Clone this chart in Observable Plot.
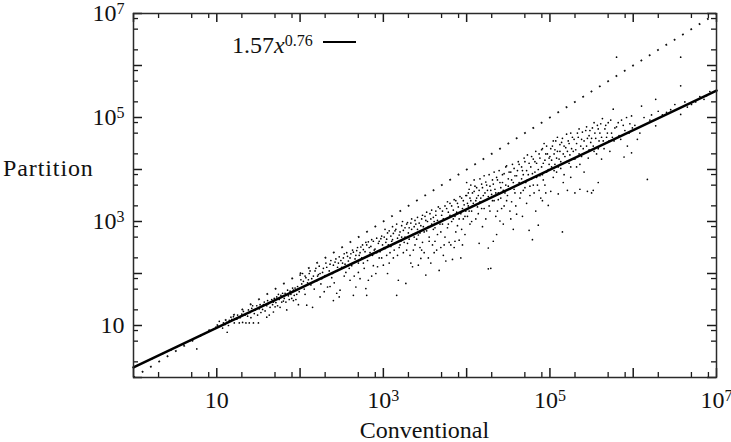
<!DOCTYPE html>
<html><head><meta charset="utf-8">
<script src="https://cdn.jsdelivr.net/npm/d3@7"></script>
<script src="https://cdn.jsdelivr.net/npm/@observablehq/plot@0.6"></script>
<style>
html,body{margin:0;padding:0;background:#fff;}
#chart svg{display:block;}
</style></head><body><div id="chart"></div>
<script>
// Scatter samples as [log10(Conventional), log10(Partition)], grouped by decade of Conventional
const decade0 = [[0.22,0.36],[0.35,0.46],[0.45,0.53],[0.52,0.59],[0.60,0.64],[0.68,0.71],[0.76,0.55],[0.80,0.80],[0.85,0.84],[0.92,0.90],[0.97,0.93],[0.99,0.97]];
const decade1 = [[1.02,0.98],[1.05,1.00],[1.08,1.05],[1.10,1.02],[1.125,0.87],[1.15,1.10],[1.18,1.12],[1.20,1.17],[1.22,1.13],[1.25,1.20],[1.27,1.05],[1.30,1.22],[1.32,1.27],[1.35,1.05],[1.38,1.30],[1.40,1.25],[1.42,1.33],[1.44,1.05],[1.45,1.23],[1.48,1.38],[1.50,1.05],[1.52,1.40],[1.55,1.31],[1.57,1.45],[1.60,1.16],[1.60,1.38],[1.62,1.42],[1.63,1.20],[1.66,1.50],[1.68,1.26],[1.68,1.45],[1.70,1.36],[1.72,1.55],[1.75,1.50],[1.76,1.35],[1.77,1.58],[1.80,1.47],[1.82,1.62],[1.84,1.30],[1.86,1.57],[1.88,1.66],[1.90,1.52],[1.92,1.48],[1.92,1.68],[1.94,1.72],[1.96,1.60],[1.98,1.40]];
const decade1b = [[1.03,1.08],[1.07,0.95],[1.12,1.06],[1.14,1.00],[1.17,1.16],[1.21,1.05],[1.24,1.12],[1.28,1.15],[1.31,1.06],[1.34,1.20],[1.37,1.18],[1.39,1.05],[1.41,1.15],[1.43,1.38],[1.46,1.30],[1.49,1.20],[1.51,1.32],[1.53,1.25],[1.56,1.40],[1.58,1.28],[1.61,1.48],[1.64,1.35],[1.67,1.40],[1.69,1.52],[1.71,1.44],[1.73,1.38],[1.74,1.60],[1.78,1.45],[1.79,1.62],[1.81,1.52],[1.83,1.45],[1.85,1.68],[1.87,1.50],[1.89,1.60],[1.91,1.72],[1.93,1.58],[1.95,1.50],[1.97,1.75],[1.99,1.65]];
const decade2 = [[2.00,1.97],[2.02,1.80],[2.04,1.85],[2.05,1.70],[2.07,1.92],[2.08,1.39],[2.10,1.88],[2.11,2.00],[2.13,1.78],[2.15,1.35],[2.16,1.95],[2.18,2.05],[2.20,1.86],[2.22,1.98],[2.24,1.55],[2.24,2.00],[2.26,1.90],[2.28,2.10],[2.30,1.96],[2.32,2.12],[2.33,1.74],[2.35,2.05],[2.36,2.18],[2.38,1.92],[2.40,1.48],[2.40,2.16],[2.42,2.22],[2.44,2.05],[2.46,2.20],[2.48,1.68],[2.49,2.25],[2.50,2.12],[2.52,2.30],[2.54,2.18],[2.55,2.02],[2.57,2.33],[2.58,2.24],[2.60,1.87],[2.61,2.38],[2.62,2.15],[2.64,1.58],[2.64,2.41],[2.66,2.28],[2.67,1.74],[2.68,2.44],[2.70,2.20],[2.71,2.35],[2.73,2.51],[2.74,2.30],[2.76,2.46],[2.77,2.10],[2.79,1.71],[2.80,1.58],[2.80,2.55],[2.82,1.87],[2.82,2.61],[2.84,2.40],[2.85,2.52],[2.87,2.35],[2.88,2.62],[2.90,2.47],[2.91,2.00],[2.93,2.13],[2.94,2.58],[2.96,2.42],[2.97,2.67],[2.98,2.30],[2.99,2.55]];
const decade2b = [[2.01,1.88],[2.03,2.00],[2.06,1.60],[2.06,1.95],[2.09,1.82],[2.12,2.05],[2.14,1.90],[2.17,1.70],[2.19,2.10],[2.21,1.95],[2.23,2.14],[2.25,1.80],[2.27,2.02],[2.29,1.65],[2.31,2.20],[2.34,1.98],[2.37,2.25],[2.39,2.00],[2.41,1.82],[2.43,2.28],[2.45,2.12],[2.47,1.55],[2.47,2.32],[2.51,2.20],[2.53,1.95],[2.56,2.40],[2.59,2.10],[2.60,2.30],[2.63,2.45],[2.65,1.95],[2.67,2.35],[2.69,2.50],[2.72,2.40],[2.72,1.90],[2.75,2.55],[2.78,2.42],[2.79,2.60],[2.81,2.25],[2.83,2.50],[2.86,2.65],[2.86,1.95],[2.89,2.45],[2.92,2.68],[2.92,2.40],[2.95,2.30],[2.95,2.62],[2.98,2.72],[2.53,2.38],[2.57,2.14],[2.36,1.75],[2.44,1.62],[2.70,2.02],[2.76,2.20],[2.88,2.15]];
const decade3 = [[3.00,2.16],[3.01,2.70],[3.02,2.48],[3.03,2.60],[3.05,2.00],[3.05,2.78],[3.06,2.55],[3.08,2.40],[3.09,2.72],[3.10,2.62],[3.12,2.77],[3.12,2.30],[3.14,2.58],[3.15,2.85],[3.16,1.58],[3.17,2.68],[3.18,1.87],[3.19,2.50],[3.20,2.80],[3.21,2.62],[3.22,2.92],[3.24,2.83],[3.24,2.40],[3.26,2.70],[3.27,1.81],[3.28,2.95],[3.29,2.58],[3.30,2.78],[3.31,2.88],[3.33,2.97],[3.33,2.20],[3.35,2.13],[3.35,2.75],[3.36,2.45],[3.37,2.90],[3.38,3.02],[3.40,2.66],[3.41,2.85],[3.42,2.16],[3.43,2.97],[3.44,2.78],[3.45,2.29],[3.46,3.05],[3.47,2.60],[3.48,2.90],[3.50,3.10],[3.51,1.97],[3.52,2.82],[3.53,3.00],[3.55,2.70],[3.56,3.15],[3.57,2.20],[3.58,2.95],[3.59,2.55],[3.60,3.08],[3.62,2.88],[3.63,3.20],[3.64,2.45],[3.65,3.02],[3.67,2.06],[3.68,3.25],[3.69,2.80],[3.70,3.12],[3.71,2.95],[3.72,2.35],[3.74,3.30],[3.75,2.24],[3.75,3.05],[3.77,2.88],[3.78,3.18],[3.79,2.60],[3.80,3.35],[3.82,3.00],[3.83,2.27],[3.84,3.22],[3.85,2.50],[3.86,3.10],[3.87,3.40],[3.89,2.92],[3.90,3.28],[3.91,2.64],[3.93,2.30],[3.93,3.15],[3.94,3.45],[3.96,3.05],[3.97,3.32],[3.98,2.75],[3.99,3.20]];
const decade3b = [[3.01,2.50],[3.02,2.85],[3.04,2.35],[3.04,2.66],[3.07,2.82],[3.07,2.20],[3.09,2.52],[3.11,2.90],[3.11,2.65],[3.13,2.45],[3.14,2.82],[3.16,2.95],[3.17,2.35],[3.19,2.74],[3.20,2.55],[3.22,2.70],[3.23,3.00],[3.25,2.60],[3.26,2.88],[3.28,2.45],[3.29,2.98],[3.31,2.66],[3.32,2.35],[3.34,2.85],[3.34,3.05],[3.37,2.70],[3.38,2.55],[3.39,2.95],[3.41,3.08],[3.42,2.74],[3.44,2.50],[3.45,2.92],[3.47,3.12],[3.49,2.80],[3.49,2.40],[3.51,3.02],[3.52,3.18],[3.54,2.90],[3.55,2.62],[3.57,3.05],[3.58,3.22],[3.60,2.85],[3.61,2.40],[3.61,3.00],[3.63,3.12],[3.65,2.75],[3.66,3.28],[3.68,2.95],[3.69,2.50],[3.71,3.20],[3.72,3.05],[3.74,2.70],[3.76,3.25],[3.77,3.38],[3.78,2.95],[3.80,3.12],[3.81,2.55],[3.82,3.30],[3.84,3.05],[3.85,3.42],[3.87,2.80],[3.88,3.18],[3.89,3.35],[3.91,3.05],[3.92,3.48],[3.94,2.85],[3.95,3.25],[3.96,3.40],[3.98,3.10],[3.99,3.50],[3.46,2.45],[3.54,2.30],[3.62,2.62],[3.73,2.55],[3.86,2.62],[3.95,2.55]];
const decade4 = [[4.00,3.50],[4.01,3.10],[4.02,3.30],[4.03,3.62],[4.04,2.95],[4.05,3.40],[4.06,3.20],[4.07,3.55],[4.08,3.35],[4.10,3.68],[4.11,3.05],[4.12,3.45],[4.13,3.28],[4.15,2.58],[4.15,3.60],[4.16,3.38],[4.18,3.72],[4.19,2.90],[4.20,3.50],[4.21,3.25],[4.23,3.76],[4.24,3.42],[4.25,3.60],[4.26,2.49],[4.26,2.09],[4.27,3.30],[4.28,3.68],[4.29,2.10],[4.30,3.52],[4.31,3.80],[4.32,2.62],[4.33,3.40],[4.34,3.62],[4.36,3.85],[4.37,3.20],[4.38,3.55],[4.40,3.01],[4.40,3.75],[4.41,3.45],[4.43,3.90],[4.44,3.60],[4.45,3.30],[4.47,3.70],[4.48,4.07],[4.49,3.50],[4.50,3.82],[4.52,3.62],[4.53,3.95],[4.54,3.38],[4.56,2.85],[4.56,3.75],[4.57,4.02],[4.58,3.55],[4.60,3.14],[4.60,3.88],[4.62,3.70],[4.63,4.10],[4.64,3.45],[4.66,3.82],[4.67,3.98],[4.68,3.60],[4.70,4.15],[4.71,3.75],[4.72,3.35],[4.73,4.28],[4.74,3.90],[4.75,2.83],[4.76,3.68],[4.77,4.05],[4.78,3.82],[4.79,2.65],[4.80,4.20],[4.81,3.55],[4.82,3.95],[4.84,4.12],[4.85,3.70],[4.86,2.93],[4.87,4.30],[4.88,3.88],[4.89,3.45],[4.90,4.05],[4.91,4.40],[4.92,3.80],[4.93,4.50],[4.94,4.18],[4.95,3.55],[4.96,3.95],[4.97,4.30],[4.98,3.31],[4.99,4.10]];
const decade4b = [[4.00,3.75],[4.01,3.35],[4.02,3.55],[4.03,3.20],[4.04,3.45],[4.05,3.70],[4.06,3.00],[4.07,3.30],[4.09,3.58],[4.09,3.80],[4.11,3.40],[4.12,3.65],[4.14,3.15],[4.14,3.50],[4.16,3.82],[4.17,3.45],[4.18,3.25],[4.19,3.65],[4.21,3.88],[4.22,3.55],[4.23,3.05],[4.24,3.70],[4.26,3.48],[4.27,3.90],[4.28,3.20],[4.29,3.60],[4.31,3.40],[4.32,3.72],[4.33,3.95],[4.35,3.55],[4.35,3.10],[4.37,3.80],[4.38,3.42],[4.39,3.98],[4.41,3.65],[4.42,3.25],[4.43,3.75],[4.45,3.92],[4.46,3.55],[4.47,4.05],[4.48,3.40],[4.50,3.68],[4.51,3.95],[4.52,3.20],[4.54,3.80],[4.55,4.10],[4.57,3.62],[4.58,3.88],[4.59,3.30],[4.61,3.98],[4.62,4.15],[4.63,3.75],[4.65,3.55],[4.66,4.05],[4.68,3.90],[4.69,4.22],[4.70,3.65],[4.72,3.98],[4.73,3.80],[4.75,4.12],[4.76,3.50],[4.78,4.25],[4.79,3.92],[4.80,3.70],[4.82,4.15],[4.83,4.35],[4.84,3.85],[4.86,4.00],[4.87,3.60],[4.88,4.22],[4.90,4.38],[4.91,3.90],[4.92,4.12],[4.94,3.70],[4.95,4.30],[4.96,4.45],[4.98,4.00],[4.99,4.22],[4.44,2.95],[4.53,3.05],[4.67,3.10],[4.83,3.20],[4.91,3.40],[4.36,2.75]];
const decade5 = [[5.00,4.25],[5.01,3.58],[5.02,4.05],[5.03,4.45],[5.04,3.85],[5.05,4.30],[5.06,4.10],[5.07,4.55],[5.08,3.95],[5.09,4.35],[5.10,3.53],[5.11,4.20],[5.12,4.48],[5.13,4.02],[5.15,2.80],[5.15,4.60],[5.16,4.30],[5.17,3.90],[5.19,4.42],[5.20,4.15],[5.21,3.60],[5.22,4.55],[5.24,4.28],[5.25,4.05],[5.27,4.62],[5.28,4.35],[5.30,3.55],[5.30,4.20],[5.32,4.50],[5.33,4.70],[5.35,4.30],[5.36,4.10],[5.38,4.58],[5.40,4.40],[5.41,3.95],[5.43,4.75],[5.44,4.45],[5.46,4.22],[5.47,4.65],[5.49,4.52],[5.50,3.55],[5.51,4.80],[5.53,4.35],[5.55,4.60],[5.57,4.85],[5.58,4.40],[5.60,4.70],[5.62,4.20],[5.63,4.98],[5.64,4.55],[5.66,4.78],[5.68,4.62],[5.70,4.90],[5.72,4.35],[5.74,4.70],[5.76,5.16],[5.77,4.55],[5.80,6.16],[5.80,4.82],[5.83,4.65],[5.86,4.95],[5.89,4.24],[5.90,4.75],[5.93,4.45],[5.96,4.88],[5.98,4.32],[5.98,5.03]];
const decade5b = [[5.01,4.40],[5.02,4.18],[5.04,4.55],[5.05,3.98],[5.06,4.38],[5.08,4.22],[5.09,4.62],[5.10,4.05],[5.12,4.35],[5.13,4.15],[5.14,4.52],[5.16,3.75],[5.17,4.45],[5.18,4.25],[5.20,4.68],[5.21,4.35],[5.23,4.12],[5.23,4.50],[5.25,4.70],[5.26,4.40],[5.28,4.20],[5.29,4.58],[5.31,4.38],[5.32,4.05],[5.34,4.62],[5.35,4.78],[5.37,4.45],[5.38,4.25],[5.39,4.72],[5.41,4.55],[5.42,4.32],[5.44,4.82],[5.45,4.60],[5.47,4.38],[5.48,4.75],[5.50,4.60],[5.52,4.45],[5.53,4.90],[5.54,4.70],[5.56,4.30],[5.58,4.78],[5.59,4.55],[5.61,4.88],[5.62,4.62],[5.65,4.40],[5.67,4.85],[5.69,4.70],[5.71,4.55],[5.73,4.95],[5.75,4.62],[5.78,4.80],[5.82,4.90],[5.85,4.58],[5.88,4.85],[5.92,5.00],[5.95,4.70],[5.99,4.80],[5.36,3.62],[5.45,3.58],[5.52,3.60],[5.58,3.75],[5.25,3.85]];
const decade6 = [[6.02,4.85],[6.05,4.58],[6.08,4.70],[6.10,5.22],[6.13,5.00],[6.17,3.81],[6.20,4.95],[6.22,5.05],[6.27,5.35],[6.27,4.84],[6.30,5.12],[6.35,5.05],[6.40,5.10],[6.45,5.15],[6.50,5.25],[6.57,6.16],[6.57,5.61],[6.57,5.06],[6.62,5.30],[6.65,5.20],[6.70,5.25],[6.75,5.30],[6.80,5.40],[6.85,5.35],[6.88,5.42],[6.92,5.50]];

// Fitted power law shown in the legend: 1.57 x^0.76
const fitCoef = 1.57;
const fitExp = 0.76;
const fitRange = [1, 1e7];
// Reference diagonal Partition = Conventional
const diagonal = [1, 1e7];

// Axis ticks
const decades = [1, 10, 1e2, 1e3, 1e4, 1e5, 1e6, 1e7];
const minorMultiples = [2, 5, 8];
const labelTicks = [10, 1e3, 1e5, 1e7];

const W = 731, H = 442;
const M = {top: 13, right: 15, bottom: 65, left: 133};
const innerW = W - M.left - M.right;
const innerH = H - M.top - M.bottom;

const points = [decade0, decade1, decade1b, decade2, decade2b, decade3, decade3b, decade4, decade4b, decade5, decade5b, decade6]
  .flat().map(([c, p]) => ({conventional: 10 ** c, partition: 10 ** p}));
const fit = fitRange.map(x => ({x, y: fitCoef * x ** fitExp}));
const minors = decades.slice(0, -1).flatMap(d => minorMultiples.map(m => m * d));

const fmt = d => d === 10 ? "10" : "10^" + Math.round(Math.log10(d));
const ink = "#1a1a1a";
const majorLen = 9, minorLen = 5;

const chart = Plot.plot({
  width: W, height: H,
  marginTop: M.top, marginRight: M.right, marginBottom: M.bottom, marginLeft: M.left,
  x: {type: "log", domain: [1, 1e7]},
  y: {type: "log", domain: [1, 1e7]},
  style: {fontFamily: "'Liberation Serif', 'DejaVu Serif', serif", fontSize: "24px", color: "#111", background: "#fff", overflow: "visible"},
  marks: [
    Plot.dot(points, {x: "conventional", y: "partition", r: 0.85, fill: "#000", stroke: null}),
    Plot.line(diagonal, {x: d => d, y: d => d, stroke: "#111", strokeWidth: 1.8, strokeLinecap: "butt", strokeDasharray: "1.8,8"}),
    Plot.line(fit, {x: "x", y: "y", stroke: "#000", strokeWidth: 2.6}),
    // ticks: bottom & top
    Plot.tickX(decades, {x: d => d, insetTop: innerH - majorLen, stroke: ink, strokeWidth: 1.5}),
    Plot.tickX(minors, {x: d => d, insetTop: innerH - minorLen, stroke: ink, strokeWidth: 1.3}),
    Plot.tickX(decades, {x: d => d, insetBottom: innerH - majorLen, stroke: ink, strokeWidth: 1.5}),
    Plot.tickX(minors, {x: d => d, insetBottom: innerH - minorLen, stroke: ink, strokeWidth: 1.3}),
    // ticks: left & right
    Plot.tickY(decades, {y: d => d, insetRight: innerW - majorLen, stroke: ink, strokeWidth: 1.5}),
    Plot.tickY(minors, {y: d => d, insetRight: innerW - minorLen, stroke: ink, strokeWidth: 1.3}),
    Plot.tickY(decades, {y: d => d, insetLeft: innerW - majorLen, stroke: ink, strokeWidth: 1.5}),
    Plot.tickY(minors, {y: d => d, insetLeft: innerW - minorLen, stroke: ink, strokeWidth: 1.3}),
    Plot.frame({stroke: "#2a2a2a", strokeWidth: 1.5}),
    Plot.axisX(labelTicks, {tickSize: 0, tickPadding: 13, tickFormat: fmt, label: null}),
    Plot.axisY(labelTicks, {tickSize: 0, tickPadding: 9, tickFormat: fmt, label: null})
  ]
});

document.getElementById("chart").appendChild(chart);
const svg = d3.select(chart);

// superscripts for tick labels
svg.selectAll("text").each(function () {
  const t = this.textContent;
  const m = t.match(/^10\^(\d+)$/);
  if (m) {
    const s = d3.select(this);
    s.text("10");
    s.append("tspan").attr("dy", "-0.42em").attr("font-size", "16px").text(m[1]);
  }
});

// axis titles
svg.append("text").attr("x", 3).attr("y", 176).attr("text-anchor", "start").attr("font-size", 24)
  .attr("letter-spacing", "0.9px").attr("fill", "#111").text("Partition");
svg.append("text").attr("x", M.left + innerW / 2).attr("y", 438).attr("text-anchor", "middle")
  .attr("font-size", 24).attr("fill", "#111").text("Conventional");

// legend
const lg = svg.append("text").attr("x", 232).attr("y", 53).attr("text-anchor", "start")
  .attr("font-size", 24).attr("fill", "#111");
lg.append("tspan").text("1.57");
lg.append("tspan").attr("font-style", "italic").text("x");
lg.append("tspan").attr("dy", "-0.45em").attr("font-size", "16px").text("0.76");
svg.append("line").attr("x1", 323).attr("x2", 356).attr("y1", 42).attr("y2", 42)
  .attr("stroke", "#000").attr("stroke-width", 2);
</script></body></html>
